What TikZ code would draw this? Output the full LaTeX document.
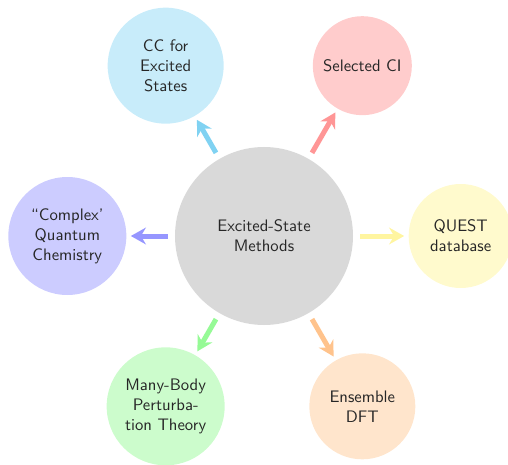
\documentclass[tikz,border=0pt]{standalone}
\usepackage{xcolor}
\usetikzlibrary{arrows.meta,positioning}

\definecolor{ccfill}{RGB}{200,236,250}
\definecolor{ccline}{RGB}{128,210,242}
\definecolor{scifill}{RGB}{255,204,204}
\definecolor{sciline}{RGB}{255,150,150}
\definecolor{questfill}{RGB}{255,250,205}
\definecolor{questline}{RGB}{255,245,160}
\definecolor{cqcfill}{RGB}{204,204,255}
\definecolor{cqcline}{RGB}{150,150,255}
\definecolor{mbptfill}{RGB}{204,252,204}
\definecolor{mbptline}{RGB}{150,250,150}
\definecolor{edftfill}{RGB}{255,229,204}
\definecolor{edftline}{RGB}{255,195,140}

\begin{document}
\begin{tikzpicture}[font=\sffamily,text=black!85]
  \tikzstyle{topic}=[circle,inner sep=0pt,align=center]
  \tikzstyle{link}=[line width=3pt,shorten <=4pt,shorten >=2.5pt,-{Stealth[length=9pt,width=10pt]}]

  \useasboundingbox (-158.4pt,-136.8pt) rectangle (146.4pt,141.6pt);

    \node[topic,fill=gray!30,minimum size=106.8pt] (esm) at (0,0)      {Excited-State\\Methods};
    \node[topic,fill=ccfill,minimum size=69.6pt]   (cc)   at (120:118pt) {CC for\\Excited\\States};
    \node[topic,fill=scifill,minimum size=59.4pt]  (sci)  at (60:118pt)  {Selected CI};
    \node[topic,fill=questfill,minimum size=62.4pt] (quest) at (0:118pt) {QUEST\\database};
    \node[topic,fill=cqcfill,minimum size=70.8pt]  (cqc)  at (180:118pt) {``Complex'\\Quantum\\Chemistry};
    \node[topic,fill=mbptfill,minimum size=70.8pt] (mbpt) at (240:118pt) {Many-Body\\Perturba-\\tion Theory};
    \node[topic,fill=edftfill,minimum size=63.6pt] (edft) at (300:118pt) {Ensemble\\DFT};

    \path[link]
    (esm) edge [ccline]    (cc)
    (esm) edge [sciline]   (sci)
    (esm) edge [questline] (quest)
    (esm) edge [cqcline]   (cqc)
    (esm) edge [mbptline]  (mbpt)
    (esm) edge [edftline]  (edft)
    ;

\end{tikzpicture}
\end{document}
